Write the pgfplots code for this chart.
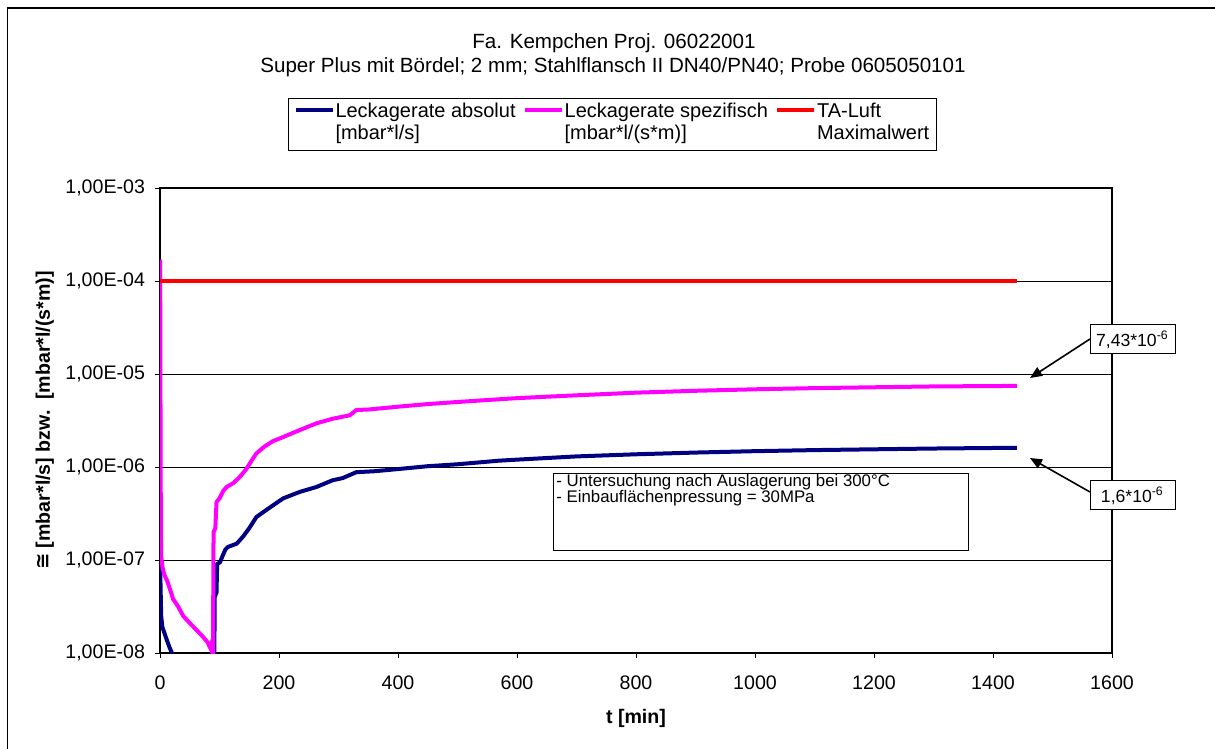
\documentclass[border=0pt]{standalone}
\usepackage{fontspec}
\setmainfont{Liberation Sans}
\newfontfamily\dejavu{DejaVu Sans}
\usepackage{pgfplots}
\pgfplotsset{compat=1.18}
\usetikzlibrary{arrows.meta}
\definecolor{navy}{HTML}{000080}
\definecolor{mag}{HTML}{FF00FF}
\definecolor{rd}{HTML}{FF0000}
\newcommand\legline[1]{\textcolor{#1}{\rule[0.3em]{18.5pt}{2pt}}}
\begin{document}
\begin{tikzpicture}
\useasboundingbox (0,0) rectangle (607.5pt,374.5pt);
\draw[line width=0.6pt] (3.7pt,0) -- (3.7pt,370.5pt) -- (607.5pt,370.5pt);
\node[font=\fontsize{10.3}{12}\selectfont] at (307pt,353pt) {Fa. Kempchen Proj. 06022001};
\node[font=\fontsize{10.3}{12}\selectfont] at (306.5pt,341pt) {Super Plus mit Bördel; 2 mm; Stahlflansch II DN40/PN40; Probe 0605050101};
% legend
\node[draw, line width=0.5pt, anchor=north west, inner xsep=3.5pt, inner ysep=2pt,
      font=\fontsize{10}{11}\selectfont] at (144pt,325.5pt) {%
  \begin{tabular}{@{}l@{\hspace{1.5pt}}l@{\hspace{4.5pt}}l@{\hspace{1.5pt}}l@{\hspace{4.5pt}}l@{\hspace{1.5pt}}l@{}}
  \legline{navy} & Leckagerate absolut & \legline{mag} & Leckagerate spezifisch & \legline{rd} & TA-Luft\\
  & [mbar*l/s] & & [mbar*l/(s*m)] & & Maximalwert
  \end{tabular}};
\begin{axis}[
  at={(80pt,48pt)}, anchor=south west,
  scale only axis, width=476pt, height=232.5pt,
  ymode=log, xmin=0, xmax=1600, ymin=1e-8, ymax=1e-3,
  xtick={0,200,...,1600},
  xticklabels={0,200,400,600,800,1000,1200,1400,1600},
  ytick={1e-8,1e-7,1e-6,1e-5,1e-4,1e-3},
  yticklabels={{1,00E-08},{1,00E-07},{1,00E-06},{1,00E-05},{1,00E-04},{1,00E-03}},
  yminorticks=false, xminorticks=false,
  ymajorgrids, major grid style={black, line width=0.5pt},
  tick align=outside, xtick pos=bottom, ytick pos=left,
  major tick length=2.5pt,
  axis line style={line width=0.6pt}, tick style={black, line width=0.5pt},
  ticklabel style={font=\fontsize{9.8}{11}\selectfont},
  /pgf/number format/assume math mode=true,
  xticklabel style={yshift=-5.5pt},
  yticklabel style={xshift=-1.5pt},
  xlabel={\bfseries t [min]},
  xlabel style={at={(axis description cs:0.5,-0.14)}, anchor=center, font=\fontsize{9.8}{11}\selectfont},
  ylabel={\bfseries {\dejavu\bfseries ≅} [mbar*l/s] bzw.\ \ [mbar*l/(s*m)]},
  ylabel style={at={(axis description cs:-0.121,0.5)}, anchor=center, rotate=0, font=\fontsize{9.8}{11}\selectfont},
  clip=true,
]
\addplot[navy, line width=2pt] coordinates {
(0,1.0e-7) (1,5e-8) (2,2.5e-8) (4,1.9e-8) (8,1.6e-8) (12,1.35e-8) (16,1.15e-8) (20,1.0e-8) (22,9e-9)
(30,5e-9) (60,5e-9) (91,5e-9) (92,4e-8) (95,4.5e-8) (96,9e-8) (101,9.5e-8) (105,1.1e-7) (110,1.3e-7)
(114,1.38e-7) (129,1.5e-7) (140,1.8e-7) (150,2.2e-7) (162,2.9e-7) (180,3.5e-7) (207,4.6e-7)
(235,5.4e-7) (263,6.1e-7) (290,7.2e-7) (307,7.6e-7) (330,8.8e-7) (360,9.0e-7) (400,9.5e-7)
(450,1.02e-6) (500,1.07e-6) (570,1.17e-6) (600,1.2e-6) (700,1.3e-6) (800,1.37e-6) (900,1.43e-6)
(1000,1.48e-6) (1100,1.52e-6) (1200,1.55e-6) (1300,1.58e-6) (1440,1.61e-6)
};
\addplot[mag, line width=2pt] coordinates {
(0,1.7e-4) (0.5,5e-5) (1,1.5e-6) (1.5,2e-7) (2,1.1e-7) (4,8.5e-8) (7,7e-8) (12,6e-8) (18,4.6e-8)
(22,3.8e-8) (30,3.2e-8) (39,2.5e-8) (50,2.1e-8) (62,1.75e-8) (72,1.5e-8) (80,1.3e-8) (84,1.15e-8)
(86,1.25e-8) (88,1.0e-8) (89,9e-9) (90,2.0e-7) (93,2.2e-7) (95,4.2e-7) (100,4.6e-7) (106,5.5e-7)
(112,6.1e-7) (123,6.7e-7) (134,7.8e-7) (145,9.5e-7) (155,1.2e-6) (162,1.4e-6) (175,1.65e-6)
(190,1.9e-6) (207,2.1e-6) (225,2.35e-6) (245,2.65e-6) (263,2.95e-6) (290,3.3e-6) (319,3.6e-6)
(330,4.1e-6) (350,4.15e-6) (400,4.45e-6) (450,4.75e-6) (500,5.0e-6) (550,5.25e-6) (600,5.5e-6)
(650,5.7e-6) (700,5.9e-6) (800,6.3e-6) (900,6.6e-6) (1000,6.85e-6) (1100,7.05e-6) (1200,7.2e-6)
(1300,7.35e-6) (1440,7.45e-6)
};
\addplot[rd, line width=2pt] coordinates {(0,1e-4) (1440,1e-4)};
\end{axis}
% annotation box
\draw[line width=0.5pt] (276.5pt,137.5pt) rectangle (484pt,99pt);
\node[anchor=west, inner sep=0pt, font=\fontsize{8.4}{9}\selectfont] at (278pt,133.5pt) {- Untersuchung nach Auslagerung bei 300°C};
\node[anchor=west, inner sep=0pt, font=\fontsize{8.4}{9}\selectfont] at (278pt,125.5pt) {- Einbauflächenpressung = 30MPa};
% value boxes
\draw[line width=0.5pt, fill=white] (545pt,212pt) rectangle (587.5pt,197.5pt);
\node[font=\fontsize{8.8}{10}\selectfont, inner sep=0pt] at (566.2pt,204.5pt) {7,43*10\textsuperscript{-6}};
\draw[line width=0.5pt, fill=white] (545pt,134pt) rectangle (587.5pt,119.5pt);
\node[font=\fontsize{8.8}{10}\selectfont, inner sep=0pt] at (566.2pt,126.5pt) {1,6*10\textsuperscript{-6}};
\draw[line width=0.8pt, -{Triangle[length=6pt,width=5pt]}] (545pt,205pt) -- (515pt,185.5pt);
\draw[line width=0.8pt, -{Triangle[length=6pt,width=5pt]}] (545pt,128.5pt) -- (515pt,145.5pt);
\end{tikzpicture}
\end{document}
